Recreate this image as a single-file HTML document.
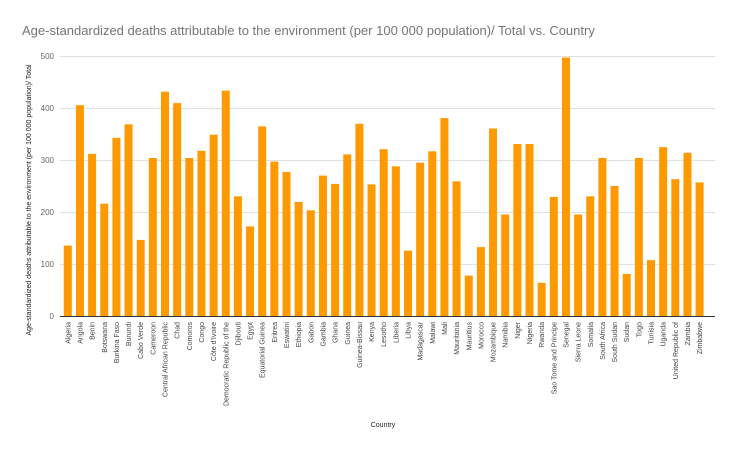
<!DOCTYPE html>
<html><head><meta charset="utf-8"><style>
body{margin:0;background:#fff}
svg text{font-family:"Liberation Sans",sans-serif;fill:#444}
</style></head><body>
<svg width="730" height="451" xmlns="http://www.w3.org/2000/svg">
<rect width="730" height="451" fill="#fff"/>
<text x="22" y="35" font-size="13" style="fill:#757575">Age-standardized deaths attributable to the environment (per 100 000 population)/ Total vs. Country</text>
<g stroke="#e0e0e0" stroke-width="1">
<line x1="60" x2="715" y1="56.5" y2="56.5"/><line x1="60" x2="715" y1="108.5" y2="108.5"/><line x1="60" x2="715" y1="160.5" y2="160.5"/><line x1="60" x2="715" y1="212.5" y2="212.5"/><line x1="60" x2="715" y1="264.5" y2="264.5"/>
</g>
<line x1="60" x2="715" y1="316.5" y2="316.5" stroke="#333" stroke-width="1"/>
<g font-size="8" text-anchor="end" style="fill:#666">
<text x="54" y="59" style="fill:#666">500</text><text x="54" y="111" style="fill:#666">400</text><text x="54" y="163" style="fill:#666">300</text><text x="54" y="215" style="fill:#666">200</text><text x="54" y="267" style="fill:#666">100</text><text x="54" y="319" style="fill:#666">0</text>
</g>
<text transform="translate(31,200) rotate(-90)" font-size="7" text-anchor="middle" style="fill:#222">Age-standardized deaths attributable to the environment (per 100 000 population)/ Total</text>
<text x="383" y="427" font-size="7" text-anchor="middle" style="fill:#222">Country</text>
<g transform="translate(0,316)" fill="#ff9900">
<rect x="63.8" y="-70.4" width="8" height="70.4"/>
<rect x="75.95" y="-210.8" width="8" height="210.8"/>
<rect x="88.1" y="-162.1" width="8" height="162.1"/>
<rect x="100.25" y="-112.4" width="8" height="112.4"/>
<rect x="112.4" y="-178.2" width="8" height="178.2"/>
<rect x="124.55" y="-191.7" width="8" height="191.7"/>
<rect x="136.7" y="-76.1" width="8" height="76.1"/>
<rect x="148.85" y="-158" width="8" height="158"/>
<rect x="161" y="-224.3" width="8" height="224.3"/>
<rect x="173.15" y="-212.9" width="8" height="212.9"/>
<rect x="185.3" y="-158" width="8" height="158"/>
<rect x="197.45" y="-165.2" width="8" height="165.2"/>
<rect x="209.6" y="-181.3" width="8" height="181.3"/>
<rect x="221.75" y="-225.3" width="8" height="225.3"/>
<rect x="233.9" y="-119.7" width="8" height="119.7"/>
<rect x="246.05" y="-89.6" width="8" height="89.6"/>
<rect x="258.2" y="-189.6" width="8" height="189.6"/>
<rect x="270.35" y="-154.4" width="8" height="154.4"/>
<rect x="282.5" y="-144" width="8" height="144"/>
<rect x="294.65" y="-114" width="8" height="114"/>
<rect x="306.8" y="-105.7" width="8" height="105.7"/>
<rect x="318.95" y="-140.4" width="8" height="140.4"/>
<rect x="331.1" y="-132.1" width="8" height="132.1"/>
<rect x="343.25" y="-161.6" width="8" height="161.6"/>
<rect x="355.4" y="-192.2" width="8" height="192.2"/>
<rect x="367.55" y="-131.6" width="8" height="131.6"/>
<rect x="379.7" y="-166.8" width="8" height="166.8"/>
<rect x="391.85" y="-149.7" width="8" height="149.7"/>
<rect x="404" y="-65.3" width="8" height="65.3"/>
<rect x="416.15" y="-153.3" width="8" height="153.3"/>
<rect x="428.3" y="-164.7" width="8" height="164.7"/>
<rect x="440.45" y="-197.9" width="8" height="197.9"/>
<rect x="452.6" y="-134.7" width="8" height="134.7"/>
<rect x="464.75" y="-40.4" width="8" height="40.4"/>
<rect x="476.9" y="-68.9" width="8" height="68.9"/>
<rect x="489.05" y="-187.5" width="8" height="187.5"/>
<rect x="501.2" y="-101.5" width="8" height="101.5"/>
<rect x="513.35" y="-172" width="8" height="172"/>
<rect x="525.5" y="-172" width="8" height="172"/>
<rect x="537.65" y="-33.2" width="8" height="33.2"/>
<rect x="549.8" y="-119.1" width="8" height="119.1"/>
<rect x="561.95" y="-258.5" width="8" height="258.5"/>
<rect x="574.1" y="-101.5" width="8" height="101.5"/>
<rect x="586.25" y="-119.7" width="8" height="119.7"/>
<rect x="598.4" y="-158" width="8" height="158"/>
<rect x="610.55" y="-130" width="8" height="130"/>
<rect x="622.7" y="-42" width="8" height="42"/>
<rect x="634.85" y="-158" width="8" height="158"/>
<rect x="647" y="-55.9" width="8" height="55.9"/>
<rect x="659.15" y="-168.9" width="8" height="168.9"/>
<rect x="671.3" y="-136.8" width="8" height="136.8"/>
<rect x="683.45" y="-163.2" width="8" height="163.2"/>
<rect x="695.6" y="-133.6" width="8" height="133.6"/>
</g>
<g font-size="7" text-anchor="end">
<text transform="translate(70.3,322) rotate(-90)">Algeria</text>
<text transform="translate(82.45,322) rotate(-90)">Angola</text>
<text transform="translate(94.6,322) rotate(-90)">Benin</text>
<text transform="translate(106.75,322) rotate(-90)">Botswana</text>
<text transform="translate(118.9,322) rotate(-90)">Burkina Faso</text>
<text transform="translate(131.05,322) rotate(-90)">Burundi</text>
<text transform="translate(143.2,322) rotate(-90)">Cabo Verde</text>
<text transform="translate(155.35,322) rotate(-90)">Cameroon</text>
<text transform="translate(167.5,322) rotate(-90)">Central African Republic</text>
<text transform="translate(179.65,322) rotate(-90)">Chad</text>
<text transform="translate(191.8,322) rotate(-90)">Comoros</text>
<text transform="translate(203.95,322) rotate(-90)">Congo</text>
<text transform="translate(216.1,322) rotate(-90)">Côte d'Ivoire</text>
<text transform="translate(228.25,322) rotate(-90)">Democratic Republic of the</text>
<text transform="translate(240.4,322) rotate(-90)">Djibouti</text>
<text transform="translate(252.55,322) rotate(-90)">Egypt</text>
<text transform="translate(264.7,322) rotate(-90)">Equatorial Guinea</text>
<text transform="translate(276.85,322) rotate(-90)">Eritrea</text>
<text transform="translate(289,322) rotate(-90)">Eswatini</text>
<text transform="translate(301.15,322) rotate(-90)">Ethiopia</text>
<text transform="translate(313.3,322) rotate(-90)">Gabon</text>
<text transform="translate(325.45,322) rotate(-90)">Gambia</text>
<text transform="translate(337.6,322) rotate(-90)">Ghana</text>
<text transform="translate(349.75,322) rotate(-90)">Guinea</text>
<text transform="translate(361.9,322) rotate(-90)">Guinea-Bissau</text>
<text transform="translate(374.05,322) rotate(-90)">Kenya</text>
<text transform="translate(386.2,322) rotate(-90)">Lesotho</text>
<text transform="translate(398.35,322) rotate(-90)">Liberia</text>
<text transform="translate(410.5,322) rotate(-90)">Libya</text>
<text transform="translate(422.65,322) rotate(-90)">Madagascar</text>
<text transform="translate(434.8,322) rotate(-90)">Malawi</text>
<text transform="translate(446.95,322) rotate(-90)">Mali</text>
<text transform="translate(459.1,322) rotate(-90)">Mauritania</text>
<text transform="translate(471.25,322) rotate(-90)">Mauritius</text>
<text transform="translate(483.4,322) rotate(-90)">Morocco</text>
<text transform="translate(495.55,322) rotate(-90)">Mozambique</text>
<text transform="translate(507.7,322) rotate(-90)">Namibia</text>
<text transform="translate(519.85,322) rotate(-90)">Niger</text>
<text transform="translate(532,322) rotate(-90)">Nigeria</text>
<text transform="translate(544.15,322) rotate(-90)">Rwanda</text>
<text transform="translate(556.3,322) rotate(-90)">Sao Tome and Principe</text>
<text transform="translate(568.45,322) rotate(-90)">Senegal</text>
<text transform="translate(580.6,322) rotate(-90)">Sierra Leone</text>
<text transform="translate(592.75,322) rotate(-90)">Somalia</text>
<text transform="translate(604.9,322) rotate(-90)">South Africa</text>
<text transform="translate(617.05,322) rotate(-90)">South Sudan</text>
<text transform="translate(629.2,322) rotate(-90)">Sudan</text>
<text transform="translate(641.35,322) rotate(-90)">Togo</text>
<text transform="translate(653.5,322) rotate(-90)">Tunisia</text>
<text transform="translate(665.65,322) rotate(-90)">Uganda</text>
<text transform="translate(677.8,322) rotate(-90)">United Republic of</text>
<text transform="translate(689.95,322) rotate(-90)">Zambia</text>
<text transform="translate(702.1,322) rotate(-90)">Zimbabwe</text>
</g>
</svg>
</body></html>
